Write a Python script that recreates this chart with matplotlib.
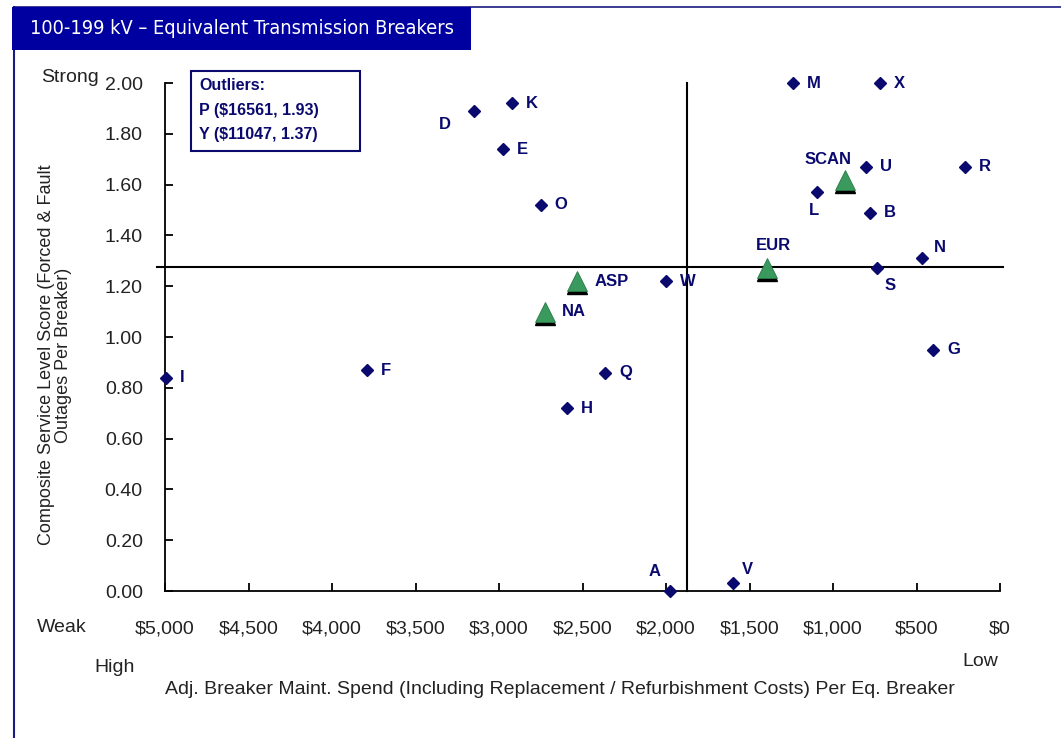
import matplotlib
matplotlib.use("Agg")
import matplotlib.pyplot as plt
from matplotlib import font_manager as fm
from matplotlib.patches import Rectangle
from matplotlib.lines import Line2D
import matplotlib.transforms as mtransforms

# ---- data ----
names = ["D", "K", "E", "O", "M", "X", "U", "R", "L", "B", "S", "N", "G",
         "W", "I", "F", "Q", "H", "A", "V"]
spend = [3150, 2920, 2975, 2750, 1240, 720, 800, 210, 1095, 780, 735, 465, 400,
         2000, 4995, 3790, 2365, 2595, 1975, 1600]
score = [1.89, 1.92, 1.74, 1.52, 2.00, 2.00, 1.67, 1.67, 1.57, 1.49, 1.27, 1.31, 0.95,
         1.22, 0.84, 0.87, 0.86, 0.72, 0.00, 0.03]

group_names = ["SCAN", "EUR", "ASP", "NA"]
group_spend = [930, 1395, 2530, 2725]
group_score = [1.62, 1.27, 1.22, 1.10]

avg_spend = 1875
avg_score = 1.276

x_ticks = [5000, 4500, 4000, 3500, 3000, 2500, 2000, 1500, 1000, 500, 0]
y_ticks = [0.0, 0.2, 0.4, 0.6, 0.8, 1.0, 1.2, 1.4, 1.6, 1.8, 2.0]
outlier_lines = ["Outliers:", "P ($16561, 1.93)", "Y ($11047, 1.37)"]

# label offsets (pixels), default to the right
offsets = {"D": (-29, -14, "center"), "L": (-3, -18, "center"), "S": (13, -17, "center"),
           "N": (18, 11, "center"), "A": (-16, 19, "center"), "V": (15, 14, "center"),
           "SCAN": (-17, 20, "center"), "EUR": (6, 23, "center")}

# ---- fonts ----
def has_font(name):
    try:
        fm.findfont(fm.FontProperties(family=name), fallback_to_default=False)
        return True
    except Exception:
        return False

base = "Liberation Sans" if has_font("Liberation Sans") else "DejaVu Sans"
plt.rcParams["font.family"] = [base, "DejaVu Sans"]

narrow_file = None
for pref in ["LiberationSansNarrow-Regular", "ArialNarrow", "DejaVuSansCondensed.ttf"]:
    for f in fm.fontManager.ttflist:
        if pref.lower() in f.fname.lower().replace("_", "").replace(" ", ""):
            narrow_file = f.fname
            break
    if narrow_file:
        break

if narrow_file:
    title_fp = fm.FontProperties(fname=narrow_file, size=14.3)
else:
    title_fp = fm.FontProperties(family=base, size=13.5)

NAVY = "#0a0a6e"
TITLE_BG = "#0000a0"
GREEN = "#3a9a5e"
TXT = "#222222"

W, H = 1061, 738
fig = plt.figure(figsize=(W / 100, H / 100), dpi=100)
fig.patch.set_facecolor("white")

L, R, B, T = 165, 1000, 591, 83
ax = fig.add_axes([L / W, 1 - B / H, (R - L) / W, (B - T) / H])
ax.set_xlim(5000, 0)
ax.set_ylim(0, 2.0)
for s in ["top", "right"]:
    ax.spines[s].set_visible(False)
for s in ["left", "bottom"]:
    ax.spines[s].set_linewidth(1.3)
ax.set_xticks(x_ticks)
ax.set_xticklabels([f"${v:,}" for v in x_ticks])
ax.set_yticks(y_ticks)
ax.set_yticklabels([f"{v:.2f}" for v in y_ticks])
ax.tick_params(axis="both", direction="in", length=6, width=1.3, labelsize=14,
               labelcolor=TXT)
ax.tick_params(axis="x", pad=21)
ax.tick_params(axis="y", pad=16)

# reference lines
ax.axhline(avg_score, xmin=-0.01, xmax=1.003, color="black", lw=1.5, clip_on=False, zorder=1)
ax.axvline(avg_spend, ymin=0, ymax=1, color="black", lw=1.5, clip_on=False, zorder=1)

# points
ax.plot(spend, score, linestyle="none", marker="D", markersize=6, color=NAVY,
        clip_on=False, zorder=3)
shadow = mtransforms.offset_copy(ax.transData, fig=fig, x=0, y=-3, units="dots")
ax.plot(group_spend, group_score, linestyle="none", marker="^", markersize=14,
        color="black", transform=shadow, clip_on=False, zorder=3)
ax.plot(group_spend, group_score, linestyle="none", marker="^", markersize=14,
        color=GREEN, markeredgecolor="#2a7a48", markeredgewidth=0.6, clip_on=False, zorder=4)

def label(n, x, y, default_dx):
    dx, dy, ha = offsets.get(n, (default_dx, 0, "left"))
    ax.annotate(n, (x, y), xytext=(dx, dy), textcoords="offset pixels",
                ha=ha, va="center", fontsize=12, fontweight="bold", color=NAVY,
                annotation_clip=False, zorder=5)

for n, x, y in zip(names, spend, score):
    label(n, x, y, 14)
for n, x, y in zip(group_names, group_spend, group_score):
    label(n, x, y, 17)

# outliers box
fig.patches.append(Rectangle((191 / W, 1 - 151 / H), 169 / W, 80 / H,
                             transform=fig.transFigure, fill=False,
                             edgecolor=NAVY, lw=1.5))
for i, t in enumerate(outlier_lines):
    fig.text(199 / W, 1 - (86 + i * 24) / H, t, fontsize=11.5, color=NAVY,
             fontweight="bold", va="center", ha="left")

# axis titles and side words
fig.text(55 / W, 1 - 355 / H,
         "Composite Service Level Score (Forced & Fault\nOutages Per Breaker)",
         rotation=90, ha="center", va="center", fontsize=13, color=TXT,
         linespacing=0.95)
fig.text(560 / W, 1 - 690 / H,
         "Adj. Breaker Maint. Spend (Including Replacement / Refurbishment Costs) Per Eq. Breaker",
         ha="center", va="center", fontsize=14, color=TXT)
fig.text(70 / W, 1 - 77 / H, "Strong", ha="center", va="center", fontsize=14, color=TXT)
fig.text(62 / W, 1 - 628 / H, "Weak", ha="center", va="center", fontsize=14, color=TXT)
fig.text(115 / W, 1 - 668 / H, "High", ha="center", va="center", fontsize=14, color=TXT)
fig.text(980 / W, 1 - 662 / H, "Low", ha="center", va="center", fontsize=14, color=TXT)

# frame and title box
fig.add_artist(Line2D([14 / W, 14 / W], [0, 1 - 7 / H], transform=fig.transFigure,
                      color="#1a1a80", lw=1.5))
fig.add_artist(Line2D([14 / W, 1], [1 - 7 / H, 1 - 7 / H], transform=fig.transFigure,
                      color="#1a1a80", lw=1.2))
fig.patches.append(Rectangle((12 / W, 1 - 50 / H), 459 / W, 43 / H,
                             transform=fig.transFigure, facecolor=TITLE_BG,
                             edgecolor="none", zorder=5))
fig.text(30 / W, 1 - 29 / H, "100-199 kV \u2013 Equivalent Transmission Breakers",
         ha="left", va="center", fontproperties=title_fp, color="white", zorder=6)

fig.savefig("out.png", dpi=100)
